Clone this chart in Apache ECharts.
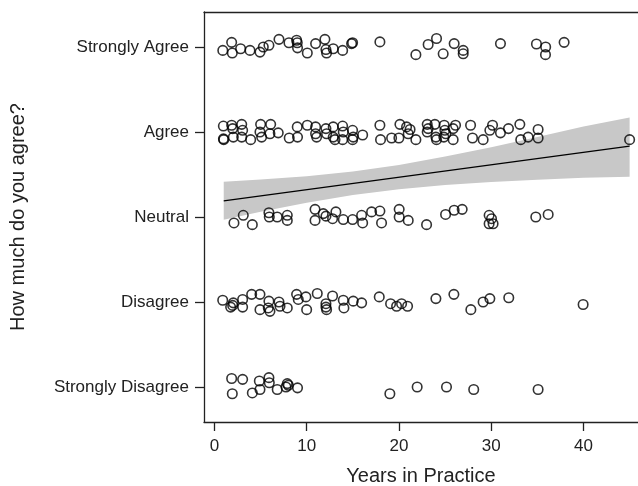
<!DOCTYPE html>
<html>
<head>
<meta charset="utf-8">
<script src="https://cdn.jsdelivr.net/npm/echarts@6/dist/echarts.min.js"></script>
<style>
html,body{margin:0;padding:0;background:#fff;}
#chart{width:638px;height:486px;}
</style>
</head>
<body>
<div id="chart"></div>
<script>
// Response categories (y = 1..5)
const categories = ['Strongly Disagree', 'Disagree', 'Neutral', 'Agree', 'Strongly Agree'];
const xTicks = [0, 10, 20, 30, 40];
const yTicks = [1, 2, 3, 4, 5];

// Jittered observations [years in practice, response]
const stronglyAgree = [[0.9,4.96],[1.86,5.055],[1.93,4.93],[2.83,4.98],[3.85,4.96],[4.93,4.94],[5.29,5.0],[5.9,5.02],[6.99,5.09],[8.07,5.05],[8.9,5.08],[8.97,5.05],[9.0,4.99],[10.06,4.93],[10.96,5.04],[11.97,5.09],[12.08,4.97],[12.15,4.93],[12.87,4.98],[13.89,4.96],[14.86,5.04],[14.97,5.05],[17.93,5.06],[21.83,4.91],[23.16,5.03],[24.07,5.1],[24.79,4.92],[25.98,5.04],[26.96,4.96],[26.96,4.92],[31.0,5.04],[34.9,5.035],[35.9,5.0],[35.88,4.91],[37.9,5.055]];

const agree = [[0.96,4.07],[0.97,3.92],[1.0,3.91],[1.86,4.08],[1.97,4.04],[2.04,3.94],[2.95,4.09],[3.05,4.02],[2.95,3.94],[3.92,3.91],[5.0,4.09],[4.93,4.0],[5.11,3.94],[6.09,4.09],[6.01,3.98],[6.91,3.99],[8.1,3.93],[8.97,4.06],[9.0,3.94],[10.06,4.08],[10.96,4.06],[10.96,3.98],[11.07,3.94],[12.08,4.04],[12.15,3.98],[12.87,4.06],[12.87,3.94],[13.06,3.91],[13.89,4.07],[13.96,4.0],[13.89,3.91],[14.97,4.02],[15.04,3.94],[14.97,3.91],[16.06,3.965],[17.93,4.08],[18.0,3.91],[19.2,3.93],[19.99,3.93],[20.1,4.09],[20.82,4.06],[21.0,3.98],[21.2,4.03],[21.83,3.91],[23.06,4.09],[23.16,4.04],[23.06,4.0],[23.89,4.09],[24.0,3.94],[24.07,3.91],[24.9,4.08],[24.97,4.02],[24.86,3.94],[25.08,3.98],[25.87,4.04],[25.87,3.91],[26.13,4.08],[27.76,4.08],[27.97,3.93],[29.12,3.91],[29.85,4.02],[30.14,4.08],[31.0,3.99],[31.87,4.04],[33.1,4.09],[33.2,3.91],[34.0,3.94],[35.08,4.03],[35.08,3.93],[45.0,3.91]];

const neutral = [[2.11,2.93],[3.12,3.02],[4.1,2.91],[5.9,3.05],[5.94,3.0],[6.8,3.0],[7.89,3.02],[7.89,2.96],[10.9,3.09],[10.9,2.96],[11.79,3.04],[12.08,3.01],[12.8,2.98],[13.16,3.06],[13.96,2.97],[14.97,2.97],[15.95,3.02],[16.06,2.93],[17.03,3.06],[17.93,3.07],[18.11,2.93],[20.02,3.09],[20.02,3.0],[21.0,2.96],[22.99,2.91],[25.05,3.03],[25.98,3.08],[26.85,3.09],[29.77,3.02],[30.03,2.98],[29.77,2.92],[30.2,2.92],[34.83,3.0],[36.17,3.03]];

const disagree = [[0.89,2.02],[1.75,1.94],[1.97,1.96],[2.04,1.99],[3.05,2.03],[3.05,1.94],[4.03,2.09],[4.93,2.09],[4.93,1.91],[5.9,2.01],[5.83,1.93],[6.01,1.89],[6.99,2.0],[7.1,1.95],[7.89,1.93],[8.9,2.09],[9.08,2.03],[9.91,2.06],[9.99,1.91],[11.14,2.1],[12.08,1.98],[12.08,1.94],[12.15,1.91],[12.8,2.07],[13.96,2.02],[14.03,1.93],[15.04,2.01],[15.95,1.99],[17.86,2.06],[19.09,1.98],[19.74,1.95],[20.28,1.98],[20.93,1.95],[24.0,2.04],[25.95,2.09],[27.79,1.91],[29.12,2.0],[29.85,2.04],[31.9,2.05],[39.96,1.97]];

const stronglyDisagree = [[1.86,1.1],[1.93,0.92],[3.05,1.09],[4.1,0.93],[4.86,1.07],[4.93,0.97],[5.9,1.11],[5.94,1.05],[6.8,0.97],[7.75,1.0],[7.89,1.04],[8.0,1.02],[9.0,0.99],[19.01,0.92],[21.97,1.0],[25.15,1.0],[28.1,0.97],[35.08,0.97]];

// Fitted line and confidence band
const fitX = [1, 45];
const fitY = [3.19, 3.835];
const bandX = [1, 5, 10, 15, 20, 25, 30, 35, 40, 45];
const bandUpper = [3.415, 3.44, 3.479, 3.534, 3.612, 3.711, 3.822, 3.941, 4.064, 4.17];
const bandLower = [2.968, 3.061, 3.168, 3.259, 3.327, 3.376, 3.411, 3.438, 3.461, 3.475];

const FONT = "'Liberation Sans', Arial, sans-serif";
const INK = '#222';

const chart = echarts.init(document.getElementById('chart'), null, {renderer: 'canvas'});

const scatterStyle = {
  type: 'scatter',
  symbol: 'circle',
  symbolSize: 9.5,
  itemStyle: {color: 'rgba(0,0,0,0)', borderColor: '#000', borderWidth: 1.6},
  z: 5
};

const axisLineStyle = {show: true, onZero: false, lineStyle: {color: INK, width: 1.3}};

chart.setOption({
  animation: false,
  backgroundColor: '#fff',
  grid: {left: 204, right: 0, top: 12, bottom: 64, show: false, containLabel: false, outerBoundsMode: 'none'},
  xAxis: [{
    type: 'value', min: -1.138, max: 45.91, position: 'bottom',
    name: 'Years in Practice', nameLocation: 'middle', nameGap: 44,
    nameTextStyle: {fontFamily: FONT, fontSize: 20, color: INK},
    axisLine: axisLineStyle,
    axisTick: {show: true, length: 9, lineStyle: {color: INK, width: 1.3}, customValues: xTicks},
    axisLabel: {fontFamily: FONT, fontSize: 17, color: INK, margin: 16, customValues: xTicks},
    splitLine: {show: false}
  }, {
    type: 'value', min: -1.138, max: 45.91, position: 'top',
    axisLine: axisLineStyle,
    axisTick: {show: false}, axisLabel: {show: false}, splitLine: {show: false}
  }],
  yAxis: {
    type: 'value', min: 0.588, max: 5.412,
    name: 'How much do you agree?', nameLocation: 'middle', nameGap: 176, nameRotate: 90,
    nameTextStyle: {fontFamily: FONT, fontSize: 20, color: INK},
    axisLine: axisLineStyle,
    axisTick: {show: true, length: 9, lineStyle: {color: INK, width: 1.3}, customValues: yTicks},
    axisLabel: {fontFamily: FONT, fontSize: 17, color: INK, margin: 15, customValues: yTicks,
      formatter: v => categories[Math.round(v) - 1] || ''},
    splitLine: {show: false}
  },
  series: [
    {
      type: 'custom',
      z: 1,
      data: [[bandX[0], bandLower[0]]],
      renderItem: (params, api) => {
        const pts = [];
        for (let i = 0; i < bandX.length; i++) pts.push(api.coord([bandX[i], bandUpper[i]]));
        for (let i = bandX.length - 1; i >= 0; i--) pts.push(api.coord([bandX[i], bandLower[i]]));
        return {type: 'polygon', shape: {points: pts, smooth: 0}, style: {fill: '#c8c8c8', stroke: null}};
      },
      silent: true
    },
    {
      type: 'line', z: 3, symbol: 'none',
      data: fitX.map((x, i) => [x, fitY[i]]),
      lineStyle: {color: '#000', width: 1.3}
    },
    Object.assign({data: stronglyAgree}, scatterStyle),
    Object.assign({data: agree}, scatterStyle),
    Object.assign({data: neutral}, scatterStyle),
    Object.assign({data: disagree}, scatterStyle),
    Object.assign({data: stronglyDisagree}, scatterStyle)
  ]
});
</script>
</body>
</html>
